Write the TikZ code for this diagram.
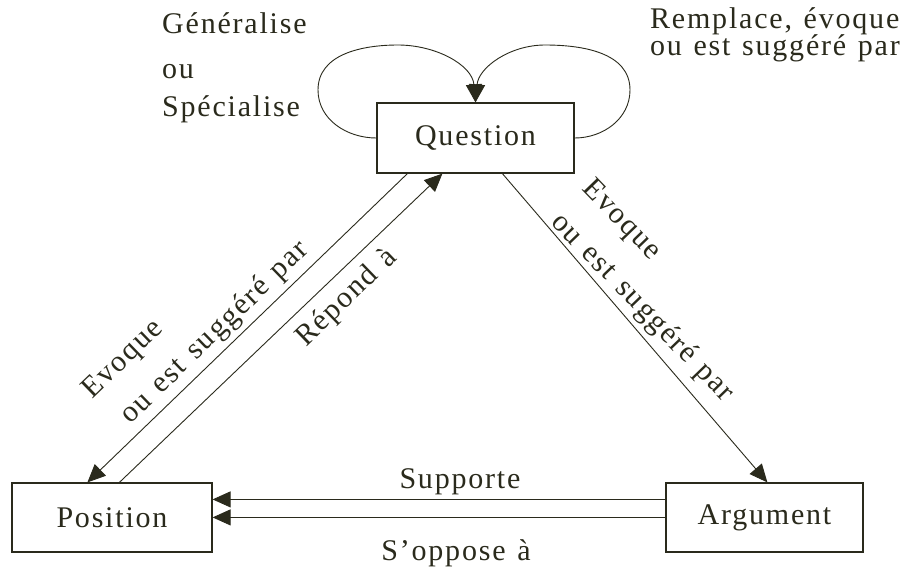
\documentclass[tikz,border=0pt]{standalone}
\usepackage{fontspec}
\setmainfont{Liberation Serif}[LetterSpace=6,WordSpace=1.25]
\usetikzlibrary{arrows.meta}
\definecolor{ink}{HTML}{2A2A1C}
\newcommand\dfont{\fontsize{30}{36}\selectfont}
\begin{document}
\begin{tikzpicture}[x=1pt,y=-1pt,
  box/.style={draw=ink, line width=1.2pt, rectangle, inner sep=0pt, font=\dfont, text=ink},
  lbl/.style={font=\dfont, text=ink, inner sep=0pt},
  conn/.style={draw=ink, line width=0.9pt, -{Triangle[length=18pt,width=16pt]}},
]
\useasboundingbox[fill=white] (0,0) rectangle (918,568);

% boxes
\node[box, minimum width=197pt, minimum height=70pt] (Q) at (475.5,138) {Question};
\node[box, minimum width=200pt, minimum height=69pt] (P) at (112,517.5) {Position};
\node[box, minimum width=197pt, minimum height=69pt] (A) at (764.5,517.5) {Argument};

% self loops
\draw[conn] (Q.west) to[out=180,in=270] (318,90) to[out=90,in=180] (398,45) to[out=0,in=95] (Q.north);
\draw[conn] (Q.east) to[out=0,in=270] (630,90) to[out=90,in=0] (545,45) to[out=180,in=85] (Q.north);

% diagonal connectors
\draw[conn] ([xshift=31pt]Q.south west) -- ([xshift=76pt]P.north west);
\draw[conn] ([xshift=108pt]P.north west) -- ([xshift=66pt]Q.south west);
\draw[conn] ([xshift=126pt]Q.south west) -- ([xshift=102pt]A.north west);

% horizontal connectors
\draw[conn] ([yshift=-17pt]A.north west) -- ([yshift=-17pt]P.north east);
\draw[conn] ([yshift=-35pt]A.north west) -- ([yshift=-35pt]P.north east);

% labels
\node[lbl, anchor=base west] (g1) at (162,33) {Généralise};
\node[lbl, anchor=base west] (g2) at (162,78) {ou};
\node[lbl, anchor=base west] (g3) at (162,116) {Spécialise};
\node[lbl, anchor=base west] (r1) at (650,28) {Remplace, évoque};
\node[lbl, anchor=base west] (r2) at (650,55) {ou est suggéré par};

\node[lbl, anchor=base west, rotate=44] (e1) at (92,400) {Evoque};
\node[lbl, anchor=base west, rotate=44] (e2) at (130,425) {ou est suggéré par};
\node[lbl, anchor=base west, rotate=44] (rep) at (306,348) {Répond à};
\node[lbl, anchor=base west, rotate=-46] (e3) at (581,189) {Evoque};
\node[lbl, anchor=base west, rotate=-46] (e4) at (550,223) {ou est suggéré par};

\node[lbl, anchor=base] (sup) at (460,488) {Supporte};
\node[lbl, anchor=base] (opp) at (456,560) {S’oppose à};
\end{tikzpicture}
\end{document}
